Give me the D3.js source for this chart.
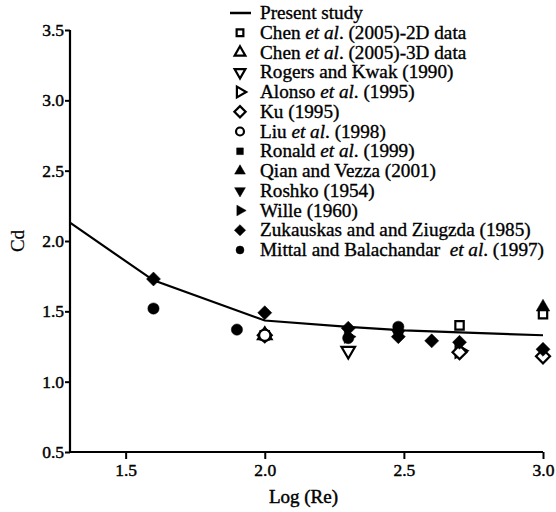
<!DOCTYPE html>
<html>
  <head>
    <meta charset="utf-8">
    <script src="https://d3js.org/d3.v7.min.js"></script>
    <title>Cd vs Log(Re)</title>
    <style>
      body { margin: 0px; background: #fff; }
      svg text {
        font-family: "Liberation Serif", "Times New Roman", serif;
        fill: #000; stroke: #000; stroke-width: 0.45px;
      }
      .tick text { font-size: 17.5px; }
      .axis-label { font-size: 19px; }
      .legend text { font-size: 19.2px; stroke-width: 0.35px; }
    </style>
  </head>
  <body>
    <svg width="556" height="512"></svg>
    <script>
      // present study curve
      const presentX = [1.3, 1.6, 2.0, 2.3, 2.5, 2.7, 3.0];
      const presentY = [2.13, 1.72, 1.435, 1.39, 1.365, 1.35, 1.33];

      // experimental / numerical points, one small array per source
      const chen2dX = [2.0, 2.7, 3.0];
      const chen2dY = [1.33, 1.40, 1.48];
      const chen3dX = [2.0];
      const chen3dY = [1.33];
      const rogersX = [2.3];
      const rogersY = [1.22];
      const alonsoX = [2.7];
      const alonsoY = [1.22];
      const kuX = [2.0, 2.7, 3.0];
      const kuY = [1.33, 1.21, 1.18];
      const liuX = [2.0];
      const liuY = [1.33];
      const ronaldX = [2.48];
      const ronaldY = [1.37];
      const qianX = [3.0];
      const qianY = [1.53];
      const roshkoX = [2.48];
      const roshkoY = [1.34];
      const willeX = [2.3];
      const willeY = [1.32];
      const zukX = [1.6, 2.0, 2.3, 2.48, 2.6, 2.7, 3.0];
      const zukY = [1.73, 1.49, 1.38, 1.32, 1.29, 1.28, 1.23];
      const mittalX = [1.6, 1.9, 2.3, 2.48];
      const mittalY = [1.52, 1.37, 1.31, 1.39];

      const xTicks = [1.5, 2.0, 2.5, 3.0];
      const yTicks = [0.5, 1.0, 1.5, 2.0, 2.5, 3.0, 3.5];

      // legend: label parts ('*' = italic), marker type, filled?, rotation
      const legendItems = [
        { parts: ['Present study'], sym: 'line' },
        { parts: ['Chen ', '*et al', '. (2005)-2D data'], sym: 'square', fill: false, rot: 0 },
        { parts: ['Chen ', '*et al', '. (2005)-3D data'], sym: 'triangle', fill: false, rot: 0 },
        { parts: ['Rogers and Kwak (1990)'], sym: 'triangle', fill: false, rot: 180 },
        { parts: ['Alonso ', '*et al', '. (1995)'], sym: 'triangle', fill: false, rot: 90 },
        { parts: ['Ku (1995)'], sym: 'square', fill: false, rot: 45 },
        { parts: ['Liu ', '*et al', '. (1998)'], sym: 'circle', fill: false, rot: 0 },
        { parts: ['Ronald ', '*et al', '. (1999)'], sym: 'square', fill: true, rot: 0 },
        { parts: ['Qian and Vezza (2001)'], sym: 'triangle', fill: true, rot: 0 },
        { parts: ['Roshko (1954)'], sym: 'triangle', fill: true, rot: 180 },
        { parts: ['Wille (1960)'], sym: 'triangle', fill: true, rot: 90 },
        { parts: ['Zukauskas and and Ziugzda (1985)'], sym: 'square', fill: true, rot: 45 },
        { parts: ['Mittal and Balachandar  ', '*et al', '. (1997)'], sym: 'circle', fill: true, rot: 0 }
      ];
      const seriesData = [
        null,
        [chen2dX, chen2dY], [chen3dX, chen3dY], [rogersX, rogersY], [alonsoX, alonsoY],
        [kuX, kuY], [liuX, liuY], [ronaldX, ronaldY], [qianX, qianY], [roshkoX, roshkoY],
        [willeX, willeY], [zukX, zukY], [mittalX, mittalY]
      ];

      const svg = d3.select('svg');
      const margin = { left: 70, right: 13, top: 30, bottom: 60 };
      const width = +svg.attr('width');
      const height = +svg.attr('height');
      const innerWidth = width - margin.left - margin.right;
      const innerHeight = height - margin.top - margin.bottom;

      const g = svg.append('g')
          .attr('transform', `translate(${margin.left},${margin.top})`);

      const xScale = d3.scaleLinear().domain([1.3, 3.0]).range([0, innerWidth]);
      const yScale = d3.scaleLinear().domain([0.5, 3.5]).range([innerHeight, 0]);

      const xAxis = d3.axisBottom(xScale).tickValues(xTicks)
        .tickFormat(d3.format('.1f')).tickSize(7).tickPadding(5);
      const yAxis = d3.axisLeft(yScale).tickValues(yTicks)
        .tickFormat(d3.format('.1f')).tickSize(5).tickPadding(1);

      const xAxisG = g.append('g')
          .attr('transform', `translate(0,${innerHeight})`)
          .call(xAxis);
      const yAxisG = g.append('g').call(yAxis);
      [xAxisG, yAxisG].forEach(a => {
        a.select('.domain').attr('stroke-width', 2.2).attr('stroke', '#000');
        a.selectAll('.tick line').attr('stroke-width', 2).attr('stroke', '#000');
      });
      xAxisG.select('.domain').attr('d', `M0,0H${innerWidth}`);
      yAxisG.select('.domain').attr('d', `M0,${innerHeight}V0`);

      svg.append('text')
          .attr('class', 'axis-label')
          .attr('x', margin.left + innerWidth / 2 - 3)
          .attr('y', 503)
          .attr('text-anchor', 'middle')
          .text('Log (Re)');

      svg.append('text')
          .attr('class', 'axis-label')
          .attr('transform', `translate(24,${margin.top + yScale(2.0)}) rotate(-90)`)
          .attr('text-anchor', 'middle')
          .style('stroke-width', '0.2px')
          .text('Cd');

      const line = d3.line()
        .x(d => xScale(d[0]))
        .y(d => yScale(d[1]));

      g.append('path')
          .datum(presentX.map((x, i) => [x, presentY[i]]))
          .attr('fill', 'none')
          .attr('stroke', '#000')
          .attr('stroke-width', 2.2)
          .attr('d', line);

      const symTypes = {
        circle: d3.symbolCircle, square: d3.symbolSquare, triangle: d3.symbolTriangle
      };
      const sizeMain = { circle: 100, square: 70, triangle: 80 };
      const sizeLeg = { circle: 50, square: 45, triangle: 50 };

      function symSize(item, sizes) {
        // rotated squares (diamonds) drawn a bit larger
        return item.rot === 45 ? sizes.square * 1.4 : sizes[item.sym];
      }

      function styleSym(sel, item) {
        sel.attr('fill', item.fill ? '#000' : '#fff')
           .attr('stroke', '#000')
           .attr('stroke-width', item.fill ? 0.5 : 2.2);
      }

      d3.range(1, legendItems.length).forEach(i => {
        const item = legendItems[i];
        const [xs, ys] = seriesData[i];
        const sym = d3.symbol().type(symTypes[item.sym]).size(symSize(item, sizeMain));
        g.append('g').selectAll('path')
          .data(xs.map((x, j) => [x, ys[j]]))
          .join('path')
            .attr('d', sym)
            .attr('transform', d => `translate(${xScale(d[0])},${yScale(d[1])}) rotate(${item.rot})`)
            .call(styleSym, item);
      });

      const legend = svg.append('g').attr('class', 'legend')
          .attr('transform', 'translate(230,13)');
      const rowH = 19.75;
      legendItems.forEach((item, i) => {
        const row = legend.append('g').attr('transform', `translate(0,${i * rowH})`);
        if (item.sym === 'line') {
          row.append('line').attr('x1', 0).attr('x2', 21).attr('y1', 0).attr('y2', 0)
            .attr('stroke', '#000').attr('stroke-width', 2.5);
        } else {
          row.append('path')
            .attr('d', d3.symbol().type(symTypes[item.sym]).size(symSize(item, sizeLeg)))
            .attr('transform', `translate(10,0) rotate(${item.rot})`)
            .call(styleSym, item);
        }
        const t = row.append('text').attr('x', 30).attr('y', 6);
        item.parts.forEach(p => {
          const it = p.startsWith('*');
          t.append('tspan')
            .style('font-style', it ? 'italic' : 'normal')
            .style('white-space', 'pre')
            .text(it ? p.slice(1) : p);
        });
      });
    </script>
  </body>
</html>
